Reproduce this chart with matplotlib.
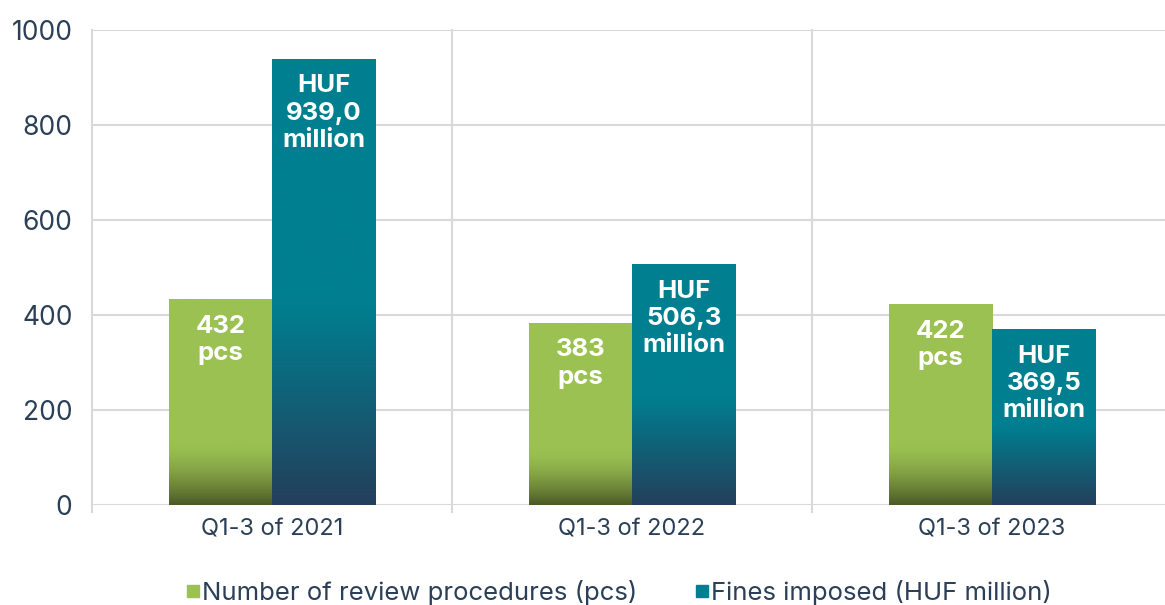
import matplotlib
matplotlib.use("Agg")
import matplotlib.pyplot as plt
from matplotlib.colors import to_rgb
from matplotlib.lines import Line2D
import numpy as np

categories = ["Q1-3 of 2021", "Q1-3 of 2022", "Q1-3 of 2023"]
procedures = [432, 383, 422]
fines = [939.0, 506.3, 369.5]
proc_labels = ["432\npcs", "383\npcs", "422\npcs"]
fine_labels = ["HUF\n939,0\nmillion", "HUF\n506,3\nmillion", "HUF\n369,5\nmillion"]
yticks = [0, 200, 400, 600, 800, 1000]

GREEN_TOP = "#9bc152"
GREEN_BOT = "#4c5a26"
TEAL_TOP = "#007f90"
TEAL_BOT = "#243f5b"
TXT = "#2b3f57"
GRID = "#d9d9d9"

plt.rcParams['font.family'] = ['Inter', 'DejaVu Sans']

fig = plt.figure(figsize=(11.65, 6.05), dpi=100)
ax = fig.add_axes([0.079, 0.1653, 0.927, 0.785])


def grad_bar(x, w, h, top, bot, frac, power=1.0):
    # vertical gradient: solid 'top' colour, fading to 'bot' over the lower part
    n = 200
    ys = np.linspace(0, 1, n)  # 0 at bottom
    t = np.clip((frac - ys) / frac, 0, 1) ** power
    c0 = np.array(to_rgb(top))
    c1 = np.array(to_rgb(bot))
    img = c0[None, :] * (1 - t[:, None]) + c1[None, :] * t[:, None]
    img = img[::-1][:, None, :]
    ax.imshow(img, extent=(x - w / 2, x + w / 2, 0, h), aspect='auto',
              interpolation='bilinear', zorder=3)


w = 0.2875
x = np.arange(len(categories))
for i in range(len(categories)):
    grad_bar(x[i] - w / 2, w, procedures[i], GREEN_TOP, GREEN_BOT, 0.31, 1.6)
    grad_bar(x[i] + w / 2, w, fines[i], TEAL_TOP, TEAL_BOT, 0.45, 1.0)
    ax.annotate(proc_labels[i], (x[i] - w / 2, procedures[i]), xytext=(0, -11),
                textcoords='offset points', ha='center', va='top', color='white',
                fontsize=18.5, fontweight='bold', linespacing=1.24, zorder=5)
    ax.annotate(fine_labels[i], (x[i] + w / 2, fines[i]), xytext=(0, -11),
                textcoords='offset points', ha='center', va='top', color='white',
                fontsize=18.5, fontweight='bold', linespacing=1.24, zorder=5)

ax.set_xlim(-0.5, 2.5)
ax.set_ylim(0, 1000)
ax.set_yticks(yticks)
ax.set_yticklabels([str(v) for v in yticks])
ax.set_xticks(x)
ax.set_xticklabels(categories)
ax.tick_params(axis='y', length=0, pad=14, labelsize=19, labelcolor=TXT)
ax.tick_params(axis='x', length=0, pad=10, labelsize=17, labelcolor=TXT)

for v in yticks:
    ax.axhline(v, color=GRID, lw=1.5, zorder=1)
for b in [-0.5, 0.5, 1.5]:
    ax.plot([b, b], [-15, 1000], color=GRID, lw=1.5, zorder=1, clip_on=False)

for s in ax.spines.values():
    s.set_visible(False)

handles = [Line2D([], [], ls='none', marker='s', markersize=8, color=GREEN_TOP),
           Line2D([], [], ls='none', marker='s', markersize=8, color=TEAL_TOP)]
fig.legend(handles, ["Number of review procedures (pcs)", "Fines imposed (HUF million)"],
           loc='center', bbox_to_anchor=(0.531, 0.02), ncol=2, frameon=False,
           fontsize=18.5, labelcolor=TXT, handletextpad=0.05, columnspacing=2.2,
           handlelength=0.6)

fig.savefig("out.png", dpi=100)
